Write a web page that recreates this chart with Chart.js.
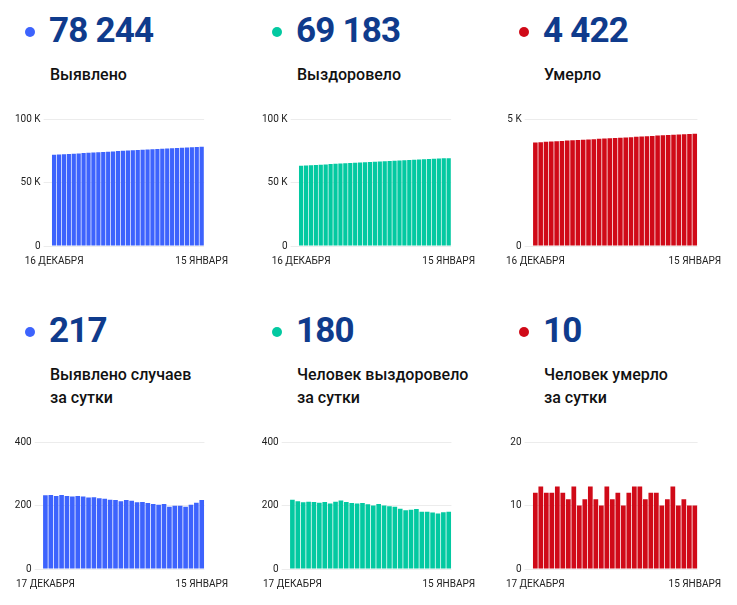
<!DOCTYPE html>
<html>
<head>
<meta charset="utf-8">
<script src="https://cdn.jsdelivr.net/npm/chart.js@4"></script>
<style>
  body { margin:0; background:#fff; font-family: Roboto, "Noto Sans", sans-serif; }
  .wrap { position:relative; width:737px; height:605px; overflow:hidden; }
  .dot { position:absolute; width:10px; height:10px; border-radius:50%; }
  .num { position:absolute; font-weight:700; font-size:35px; color:#0f3b8c; line-height:40px; letter-spacing:-0.8px; }
  .lbl { position:absolute; font-weight:500; font-size:16px; color:#111; line-height:23px; }
  .box { position:absolute; }
</style>
</head>
<body>
<div class="wrap" id="wrap"></div>
<script>

// dates
var daysTotal = ['16 ДЕКАБРЯ','17 ДЕКАБРЯ','18 ДЕКАБРЯ','19 ДЕКАБРЯ','20 ДЕКАБРЯ','21 ДЕКАБРЯ','22 ДЕКАБРЯ','23 ДЕКАБРЯ','24 ДЕКАБРЯ','25 ДЕКАБРЯ','26 ДЕКАБРЯ','27 ДЕКАБРЯ','28 ДЕКАБРЯ','29 ДЕКАБРЯ','30 ДЕКАБРЯ','31 ДЕКАБРЯ',
  '1 ЯНВАРЯ','2 ЯНВАРЯ','3 ЯНВАРЯ','4 ЯНВАРЯ','5 ЯНВАРЯ','6 ЯНВАРЯ','7 ЯНВАРЯ','8 ЯНВАРЯ','9 ЯНВАРЯ','10 ЯНВАРЯ','11 ЯНВАРЯ','12 ЯНВАРЯ','13 ЯНВАРЯ','14 ЯНВАРЯ','15 ЯНВАРЯ'];
var daysDaily = daysTotal.slice(1);

// cumulative, 16 dec - 15 jan
var cases = [71766,71998,72231,72461,72694,72924,73152,73382,73610,73835,74061,74284,74505,74723,74940,75153,
  75370,75585,75795,76006,76214,76419,76621,76826,77022,77221,77420,77616,77818,78027,78244];
var recovered = [63206,63424,63637,63847,64059,64270,64479,64690,64896,65108,65324,65535,65743,65949,66157,66361,
  66561,66766,66966,67164,67360,67550,67735,67922,68111,68291,68471,68649,68824,69003,69183];
var deaths = [4075,4087,4100,4112,4124,4137,4149,4160,4173,4183,4194,4207,4218,4228,4241,4252,
  4264,4274,4286,4299,4312,4323,4335,4347,4357,4368,4381,4391,4402,4412,4422];

// per day, 17 dec - 15 jan
var casesDaily = [232,233,230,233,230,228,230,228,225,226,223,221,218,217,213,217,215,210,211,208,205,202,205,196,199,199,196,202,209,217];
var recoveredDaily = [218,213,210,212,211,209,211,206,212,216,211,208,206,208,204,200,205,200,198,196,190,185,187,189,180,180,178,175,179,180];
var deathsDaily = [12,13,12,12,13,12,11,13,10,11,13,11,10,13,11,12,10,12,13,13,11,12,12,10,11,13,10,11,10,10];

var blue = '#3d63fd', green = '#03c9a1', red = '#d00a18';

var headerX = [0, 247, 494];
var headerY = [0, 300];

// chart box: left, top, width
var panels = [
  {hc:0, hr:0, bx:12,  by:110, bw:225, num:'78 244', text:['Выявлено'], color:blue, labels:daysTotal, data:cases, max:100000, step:50000},
  {hc:1, hr:0, bx:259, by:110, bw:225, num:'69 183', text:['Выздоровело'], color:green, labels:daysTotal, data:recovered, max:100000, step:50000},
  {hc:2, hr:0, bx:497, by:110, bw:233, num:'4 422', text:['Умерло'], color:red, labels:daysTotal, data:deaths, max:5000, step:5000},
  {hc:0, hr:1, bx:7,   by:433, bw:230, num:'217', text:['Выявлено случаев','за сутки'], color:blue, labels:daysDaily, data:casesDaily, max:400, step:200},
  {hc:1, hr:1, bx:254, by:433, bw:230, num:'180', text:['Человек выздоровело','за сутки'], color:green, labels:daysDaily, data:recoveredDaily, max:400, step:200},
  {hc:2, hr:1, bx:497, by:433, bw:233, num:'10', text:['Человек умерло','за сутки'], color:red, labels:daysDaily, data:deathsDaily, max:20, step:10}
];

var wrap = document.getElementById('wrap');

panels.forEach(function(p, k){
  var hx = headerX[p.hc], hy = headerY[p.hr];

  var dot = document.createElement('div');
  dot.className = 'dot';
  dot.style.left = (hx + 25) + 'px';
  dot.style.top = (hy + 27) + 'px';
  dot.style.background = p.color;
  wrap.appendChild(dot);

  var num = document.createElement('div');
  num.className = 'num';
  num.style.left = (hx + 49) + 'px';
  num.style.top = (hy + 11) + 'px';
  num.textContent = p.num;
  wrap.appendChild(num);

  var lbl = document.createElement('div');
  lbl.className = 'lbl';
  lbl.style.left = (hx + 50) + 'px';
  lbl.style.top = (hy + 63) + 'px';
  lbl.innerHTML = p.text.join('<br>');
  wrap.appendChild(lbl);

  var box = document.createElement('div');
  box.className = 'box';
  box.style.left = p.bx + 'px';
  box.style.top = p.by + 'px';
  box.style.width = p.bw + 'px';
  box.style.height = '166px';
  var cv = document.createElement('canvas');
  cv.id = 'c' + k;
  box.appendChild(cv);
  wrap.appendChild(box);

  new Chart(cv.getContext('2d'), {
    type:'bar',
    data:{
      labels:p.labels,
      datasets:[{
        data:p.data,
        backgroundColor:p.color,
        borderWidth:0,
        barPercentage:0.86,
        categoryPercentage:1
      }]
    },
    options:{
      responsive:true,
      maintainAspectRatio:false,
      animation:false,
      events:[],
      layout:{padding:0},
      plugins:{legend:{display:false}, tooltip:{enabled:false}},
      scales:{
        x:{
          grid:{display:false, drawTicks:false},
          border:{display:false},
          ticks:{
            autoSkip:false, maxRotation:0, padding:9,
            color:'#222', font:{family:'Roboto', size:10},
            callback:function(v, i, t){ return (i === 0 || i === t.length - 1) ? this.getLabelForValue(v) : ''; }
          }
        },
        y:{
          min:0, max:p.max,
          grid:{color:'#ececec', tickLength:8, drawTicks:true},
          border:{display:false},
          ticks:{
            stepSize:p.step, padding:3,
            color:'#222', font:{family:'Roboto', size:10},
            callback:function(v){ return (p.max >= 5000 && v > 0) ? (v / 1000) + ' K' : v; }
          }
        }
      }
    }
  });
});
</script>
</body>
</html>
